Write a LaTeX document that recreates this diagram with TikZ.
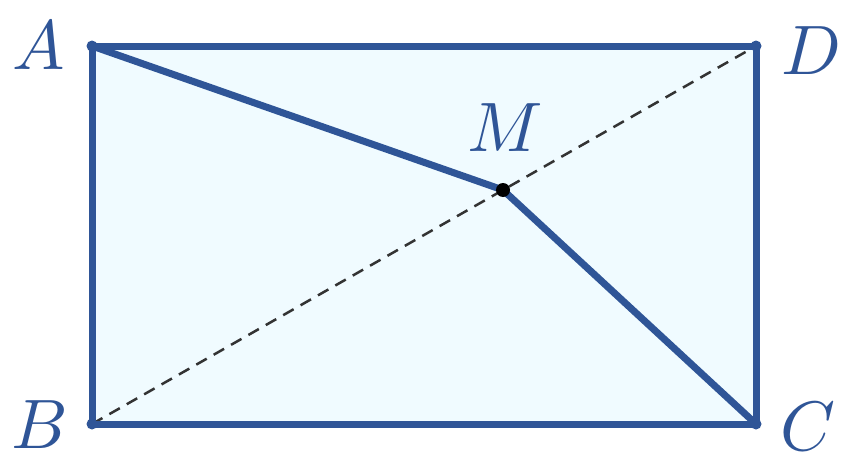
\documentclass[tikz,border=0pt]{standalone}
\usepackage{tikz}
\definecolor{geoblue}{HTML}{2F5597}
\definecolor{geofill}{HTML}{F0FBFF}
\definecolor{dashgray}{HTML}{333333}
\tikzset{
  edge/.style={geoblue, line width=7pt, line cap=round, line join=round},
  diag/.style={dashgray, line width=2.5pt, dash pattern=on 12pt off 8pt},
  lbl/.style={geoblue, scale=7, inner sep=0pt},
  vtx/.style={circle, fill=geoblue, inner sep=0pt, minimum size=11pt},
}
\begin{document}
\begin{tikzpicture}[x=1pt,y=-1pt]
\useasboundingbox (0,0) rectangle (856,463);
\coordinate (A) at (92,46);
\coordinate (D) at (756,46);
\coordinate (B) at (92,424);
\coordinate (C) at (756,424);
\coordinate (M) at (503,190);
\fill[geofill] (A) -- (D) -- (C) -- (B) -- cycle;
\draw[diag] (B) -- (D);
\draw[edge] (A) -- (D) -- (C) -- (B) -- cycle;
\draw[edge] (A) -- (M) -- (C);
\node[vtx] at (A) {};
\node[vtx] at (B) {};
\node[vtx] at (C) {};
\node[vtx] at (D) {};
\node[circle, fill=black, inner sep=0pt, minimum size=14pt] (Mdot) at (M) {};
\node[lbl] (lA) at (39,46) {$A$};
\node[lbl] (lD) at (811,51) {$D$};
\node[lbl] (lB) at (40,425) {$B$};
\node[lbl] (lC) at (808,427) {$C$};
\node[lbl] (lM) at (505,128) {$M$};
\end{tikzpicture}
\end{document}
